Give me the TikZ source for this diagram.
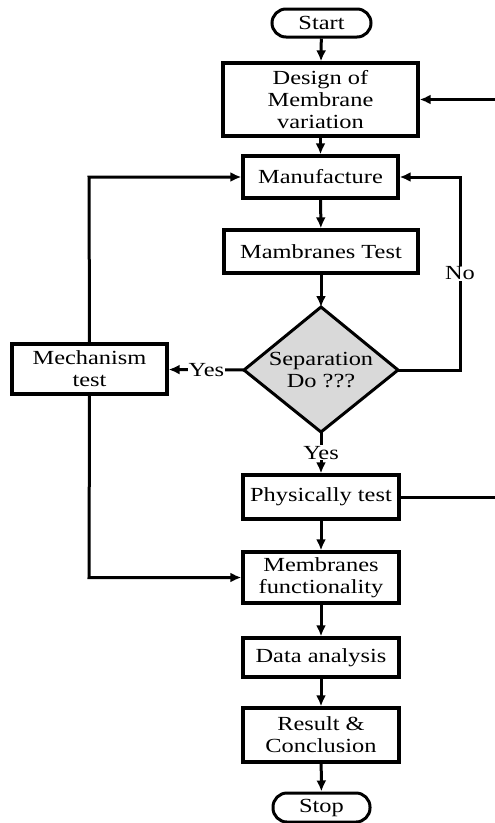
\documentclass[tikz,border=0pt]{standalone}
\usepackage{fontspec}
\setmainfont{Liberation Serif}[FakeStretch=1.22]
\usetikzlibrary{arrows.meta}
\definecolor{decgray}{HTML}{D9D9D9}
\tikzset{
  box/.style={draw, line width=3.3pt, fill=white, align=center, inner sep=0pt},
  term/.style={draw, line width=3pt, rounded corners=14pt, align=center, inner sep=0pt},
  conn/.style={line width=3pt, -{Latex[length=11pt,width=10pt]}},
  plain/.style={line width=3pt},
  lbl/.style={fill=white, inner sep=1pt},
}
\begin{document}
\begin{tikzpicture}[x=1pt, y=-1pt, font=\fontsize{20}{22}\selectfont]
\useasboundingbox (0,0) rectangle (495,823);
% nodes
\node[term, minimum width=99pt, minimum height=28pt] (start) at (321.5,23) {Start};
\node[box, minimum width=195pt, minimum height=73pt] (design) at (320.5,99.5) {Design of\\Membrane\\variation};
\node[box, minimum width=155pt, minimum height=42pt] (manu) at (320.5,177) {Manufacture};
\node[box, minimum width=194pt, minimum height=43pt] (mtest) at (321,251.5) {Mambranes Test};
\coordinate (dt) at (321,307);
\coordinate (dr) at (398,370);
\coordinate (db) at (321,432);
\coordinate (dl) at (244,370);
\filldraw[fill=decgray, line width=3pt, line join=miter] (dt) -- (dr) -- (db) -- (dl) -- cycle;
\node[align=center, inner sep=0pt] (dec) at (321,370) {Separation\\Do ???};
\node[box, minimum width=155pt, minimum height=50pt] (mech) at (89.5,369) {Mechanism\\test};
\node[box, minimum width=156pt, minimum height=44pt] (phys) at (321,497) {Physically test};
\node[box, minimum width=156pt, minimum height=51pt] (func) at (321,577.5) {Membranes\\functionality};
\node[box, minimum width=156pt, minimum height=39pt] (data) at (321,657.5) {Data analysis};
\node[box, minimum width=156pt, minimum height=54pt] (result) at (321,735) {Result \&\\Conclusion};
\node[term, minimum width=97pt, minimum height=29pt] (stop) at (321.5,807.5) {Stop};
% helper coordinates
\coordinate (rin) at (495,99.5);
\coordinate (rout) at (495,497);
\coordinate (no1) at (460,370);
\coordinate (no2) at (460,177);
\coordinate (mu) at (89,177);
\coordinate (md) at (89,577.5);
% connectors
\draw[conn] (start) -- (design);
\draw[conn] (design) -- (manu);
\draw[conn] (manu) -- (mtest);
\draw[conn] (mtest) -- (dt);
\draw[conn] (db) -- node[lbl] {Yes} (phys);
\draw[conn] (dl) -- node[lbl] {Yes} (mech);
\draw[conn] (dr) -- (no1) -- node[lbl] {No} (no2) -- (manu.east);
\draw[conn] (mech.north) -- (mu) -- (manu.west);
\draw[conn] (mech.south) -- (md) -- (func.west);
\draw[plain] (phys.east) -- (rout);
\draw[conn] (rin) -- (design.east);
\draw[conn] (phys) -- (func);
\draw[conn] (func) -- (data);
\draw[conn] (data) -- (result);
\draw[conn] (result) -- (stop);
\end{tikzpicture}
\end{document}
